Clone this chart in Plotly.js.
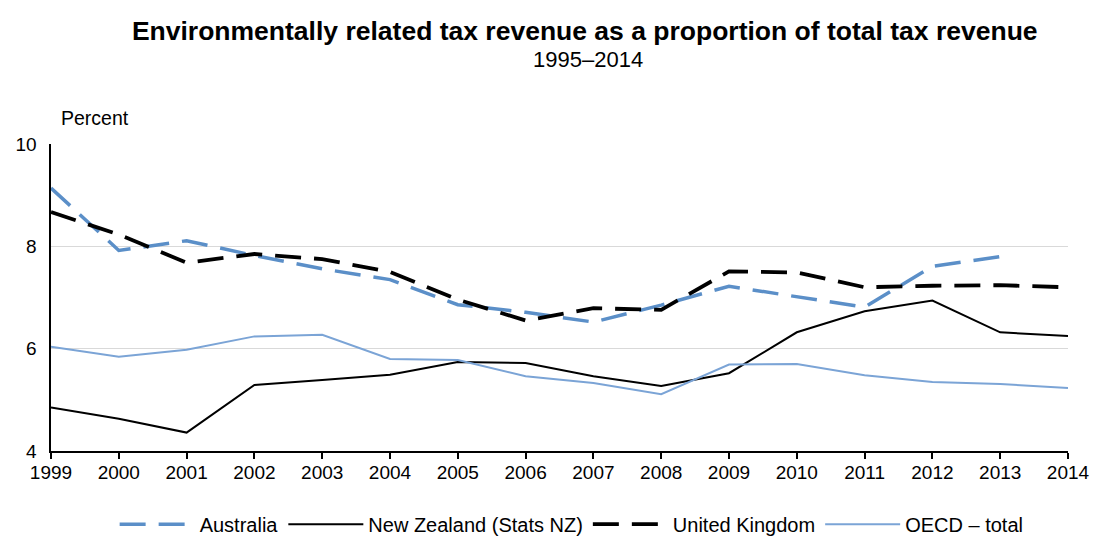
<!DOCTYPE html>
<html>
<head>
<meta charset="utf-8">
<script src="https://cdn.plot.ly/plotly-3.0.1.min.js"></script>
<style>html,body{margin:0;padding:0;background:#fff;}#chart{width:1093px;height:536px;}</style>
</head>
<body>
<div id="chart"></div>
<script>
const years = [1999,2000,2001,2002,2003,2004,2005,2006,2007,2008,2009,2010,2011,2012,2013,2014];
const australia = [9.14,7.92,8.11,7.82,7.56,7.35,6.86,6.71,6.52,6.85,7.22,7.02,6.81,7.61,7.80,null];
const newZealand = [4.85,4.63,4.36,5.29,5.39,5.49,5.74,5.72,5.46,5.27,5.52,6.32,6.73,6.94,6.32,6.25];
const unitedKingdom = [8.67,8.23,7.68,7.85,7.75,7.50,6.96,6.55,6.79,6.76,7.51,7.49,7.20,7.23,7.24,7.20];
const oecdTotal = [6.04,5.84,5.98,6.24,6.27,5.80,5.78,5.46,5.33,5.11,5.69,5.70,5.48,5.35,5.31,5.23];
const seriesNames = ["Australia","New Zealand (Stats NZ)","United Kingdom","OECD – total"];

const font = "Liberation Sans, Arial, sans-serif";
const traces = [
  {x: years, y: australia, name: seriesNames[0], mode: "lines",
   line: {color: "#5b8fc8", width: 3.5, dash: "26px,13px"}},
  {x: years, y: newZealand, name: seriesNames[1], mode: "lines",
   line: {color: "#000000", width: 2}},
  {x: years, y: unitedKingdom, name: seriesNames[2], mode: "lines",
   line: {color: "#000000", width: 3.8, dash: "26px,13px"}},
  {x: years, y: oecdTotal, name: seriesNames[3], mode: "lines",
   line: {color: "#7ba4d6", width: 2}}
];

const layout = {
  width: 1093, height: 536,
  margin: {l: 51, r: 25, t: 144, b: 85},
  paper_bgcolor: "#fff", plot_bgcolor: "#fff",
  font: {family: font, size: 17, color: "#000"},
  title: {text: "<b>Environmentally related tax revenue as a proportion of total tax revenue</b>",
          x: 0.535, xanchor: "center", y: 0.942, yanchor: "middle",
          font: {family: font, size: 26.5, color: "#000"}},
  showlegend: true,
  legend: {orientation: "h", xref: "container", yref: "container", x: 0.523, xanchor: "center",
           y: 0.022, yanchor: "middle",
           font: {family: font, size: 20}, itemwidth: 75, traceorder: "normal",
           bgcolor: "rgba(0,0,0,0)"},
  xaxis: {range: [1999, 2014], tickmode: "array", tickvals: years, ticktext: years.map(String),
          showgrid: false, zeroline: false, showline: true, linecolor: "#000", linewidth: 2,
          ticks: "outside", ticklen: 6, tickwidth: 2, tickcolor: "#000",
          ticklabelstandoff: -3,
          tickfont: {family: font, size: 19}, fixedrange: true},
  yaxis: {range: [4, 10], tickvals: [4,6,8,10], showgrid: true, gridcolor: "#d9d9d9", gridwidth: 1.2,
          zeroline: false, showline: true, linecolor: "#000", linewidth: 2.5, ticks: "",
          ticklabelstandoff: 8,
          tickfont: {family: font, size: 19}, fixedrange: true},
  annotations: [
    {text: "1995–2014", xref: "paper", yref: "paper", x: 0.528, y: 1.274, xanchor: "center", yanchor: "middle",
     showarrow: false, font: {family: font, size: 22}},
    {text: "Percent", xref: "paper", yref: "paper", x: 0.008, y: 1.085, xanchor: "left", yanchor: "middle",
     showarrow: false, font: {family: font, size: 19.5}}
  ]
};

Plotly.newPlot("chart", traces, layout, {displayModeBar: false, staticPlot: true});
</script>
</body>
</html>
